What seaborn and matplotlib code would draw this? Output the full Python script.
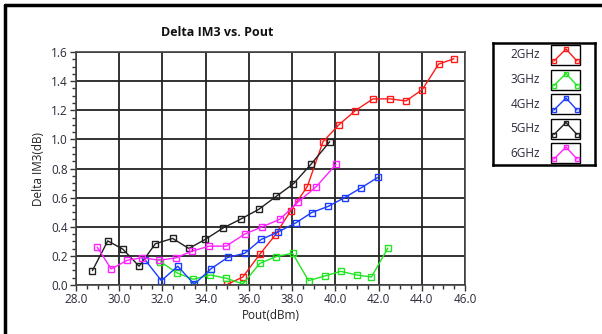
import numpy as np
import pandas as pd
import seaborn as sns
import matplotlib
matplotlib.use("Agg")
import matplotlib.pyplot as plt
from matplotlib.lines import Line2D
from matplotlib.patches import Rectangle
from matplotlib.ticker import MultipleLocator, FormatStrFormatter

# ---- data ----
x_2g = [35.01, 35.72, 36.50, 37.21, 37.94, 38.70, 39.43, 40.17, 40.93, 41.74, 42.53, 43.27, 44.02, 44.78, 45.49]
y_2g = [0.005, 0.055, 0.210, 0.341, 0.511, 0.675, 0.984, 1.101, 1.198, 1.278, 1.278, 1.264, 1.341, 1.517, 1.554]

x_3g = [31.91, 32.68, 33.43, 34.22, 34.96, 35.72, 36.51, 37.26, 38.02, 38.76, 39.52, 40.25, 40.98, 41.67, 42.43]
y_3g = [0.159, 0.083, 0.039, 0.069, 0.046, 0.007, 0.149, 0.195, 0.218, 0.030, 0.062, 0.094, 0.069, 0.055, 0.253]

x_4g = [31.21, 31.95, 32.71, 33.47, 34.26, 35.02, 35.81, 36.57, 37.33, 38.19, 38.90, 39.67, 40.43, 41.19, 41.98]
y_4g = [0.170, 0.030, 0.129, 0.005, 0.113, 0.189, 0.218, 0.313, 0.363, 0.428, 0.497, 0.540, 0.600, 0.667, 0.740]

x_5g = [28.76, 29.47, 30.17, 30.92, 31.67, 32.47, 33.22, 33.98, 34.80, 35.63, 36.45, 37.26, 38.06, 38.88, 39.74]
y_5g = [0.099, 0.303, 0.246, 0.129, 0.283, 0.320, 0.251, 0.313, 0.391, 0.453, 0.519, 0.608, 0.695, 0.830, 0.984]

x_6g = [28.98, 29.63, 30.37, 31.07, 31.84, 32.62, 33.35, 34.17, 34.95, 35.80, 36.62, 37.43, 38.28, 39.12, 40.03]
y_6g = [0.260, 0.110, 0.170, 0.188, 0.170, 0.186, 0.232, 0.267, 0.267, 0.349, 0.400, 0.451, 0.570, 0.676, 0.828]

labels = ["2GHz", "3GHz", "4GHz", "5GHz", "6GHz"]
colors = ["#ff1a1a", "#22e622", "#1a3cff", "#202020", "#ff22ff"]
xs = [x_2g, x_3g, x_4g, x_5g, x_6g]
ys = [y_2g, y_3g, y_4g, y_5g, y_6g]

frames = []
for lab, xv, yv in zip(labels, xs, ys):
    frames.append(pd.DataFrame({"Pout": xv, "dIM3": yv, "freq": lab}))
df = pd.concat(frames, ignore_index=True)

sns.set_style("white")
plt.rcParams["font.family"] = ["Open Sans", "DejaVu Sans"]

fig = plt.figure(figsize=(6.02, 3.34), dpi=100)
ax = fig.add_axes([76/602, 1-285/334, (465-76)/602, (285-52)/334])

for lab, col in zip(labels, colors):
    sub = df[df["freq"] == lab]
    sns.lineplot(data=sub, x="Pout", y="dIM3", ax=ax, color=col, sort=False,
                 estimator=None, marker="s", markersize=5, markerfacecolor="none",
                 markeredgecolor=col, markeredgewidth=1.0, linewidth=1.0, legend=False)

ax.set_xlim(28, 46)
ax.set_ylim(0, 1.6)
ax.xaxis.set_major_locator(MultipleLocator(2))
ax.xaxis.set_minor_locator(MultipleLocator(0.5))
ax.yaxis.set_major_locator(MultipleLocator(0.2))
ax.yaxis.set_minor_locator(MultipleLocator(0.05))
ax.xaxis.set_major_formatter(FormatStrFormatter("%.1f"))
ax.yaxis.set_major_formatter(FormatStrFormatter("%.1f"))
ax.grid(True, which="major", color="#222222", linewidth=1.3)
ax.set_axisbelow(True)
ax.tick_params(axis="both", which="major", direction="out", length=4, width=1,
               labelsize=8.5, color="#333333", labelcolor="#2a2a3a",
               bottom=True, left=True, pad=2)
ax.tick_params(axis="both", which="minor", direction="out", length=3, width=1,
               color="#333333", bottom=True, left=True)
for s in ax.spines.values():
    s.set_color("#444444")
    s.set_linewidth(1.2)
ax.set_xlabel("Pout(dBm)", fontsize=8.5, labelpad=2, color="#222222")
ax.set_ylabel("Delta IM3(dB)", fontsize=8.5, labelpad=4, color="#222222")

fig.text(217/602, 1-32/334, "Delta IM3 vs. Pout", ha="center", va="center",
         fontsize=9, fontweight="bold", color="#111111")

# legend panel
lax = fig.add_axes([493/602, 1-165/334, (595-493)/602, (165-43)/334])
lax.set_xlim(0, 102)
lax.set_ylim(122, 0)
lax.set_xticks([])
lax.set_yticks([])
for s in lax.spines.values():
    s.set_color("black")
    s.set_linewidth(1.8)
for i, (lab, col) in enumerate(zip(labels, colors)):
    yc = 12 + i * 24.5
    lax.text(47, yc, lab, ha="right", va="center", fontsize=8.5, color="#2a2a3a")
    lax.add_patch(Rectangle((58, yc - 10), 29, 20, fill=False, edgecolor="black", linewidth=1))
    px = [61, 73, 84]
    py = [yc + 6, yc - 6, yc + 6]
    lax.add_line(Line2D(px, py, color=col, linewidth=1, marker="s", markersize=3.5,
                        markerfacecolor="none", markeredgecolor=col))

# outer frame fragments
fig.add_artist(Line2D([5/602, 1], [1-5/334, 1-5/334], color="black", linewidth=2.5,
                      transform=fig.transFigure))
fig.add_artist(Line2D([5/602, 5/602], [0, 1-5/334], color="black", linewidth=2.5,
                      transform=fig.transFigure))

fig.savefig("out.png", dpi=100)
